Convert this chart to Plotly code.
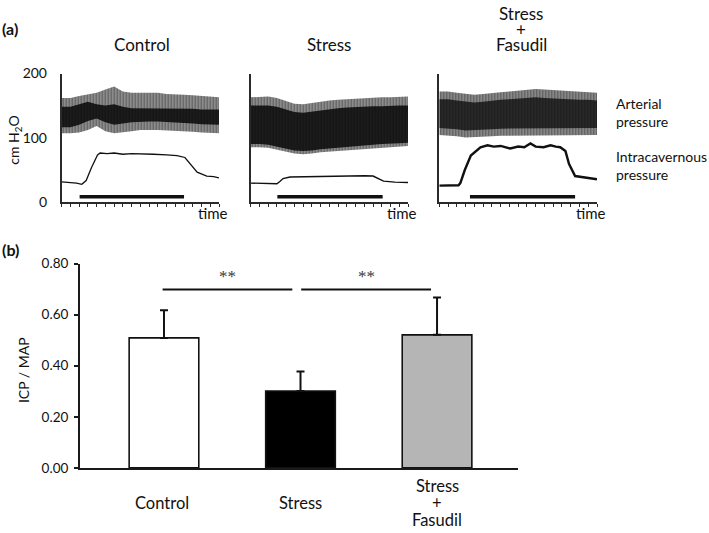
import plotly.graph_objects as go

W, H = 709, 533
FONT = "Lato"

# ---------------- Panel (a) data : pressure traces (time units 0..18) ----------------
panel_titles = ["Control", "Stress", "Stress\n+\nFasudil"]
t_grid = list(range(19))

# arterial pressure envelopes (cm H2O)
ctrl_art_hi = [162, 162, 165, 167, 170, 175, 180, 172, 170, 170, 170, 170, 168, 168, 167, 166, 165, 164, 163]
ctrl_art_lo = [107, 107, 108, 112, 118, 110, 107, 108, 110, 112, 112, 112, 112, 111, 110, 109, 108, 107, 107]
ctrl_core_hi = [148, 148, 152, 156, 152, 150, 152, 148, 146, 146, 146, 146, 146, 146, 145, 145, 144, 144, 144]
ctrl_core_lo = [116, 116, 120, 126, 130, 124, 120, 122, 124, 125, 125, 125, 125, 124, 123, 122, 121, 120, 120]

str_art_hi = [163, 164, 164, 162, 157, 153, 152, 154, 157, 158, 159, 160, 160, 161, 162, 163, 163, 164, 164]
str_art_lo = [85, 85, 84, 82, 78, 75, 74, 75, 77, 79, 80, 81, 82, 83, 84, 85, 86, 86, 87]
str_core_hi = [150, 150, 150, 148, 144, 140, 139, 141, 143, 145, 146, 147, 148, 148, 149, 149, 150, 150, 150]
str_core_lo = [90, 90, 89, 87, 83, 80, 79, 80, 82, 84, 85, 86, 87, 88, 89, 90, 91, 91, 92]

fas_art_hi = [172, 172, 170, 168, 167, 168, 170, 171, 172, 173, 175, 176, 175, 174, 173, 172, 171, 171, 170]
fas_art_lo = [104, 103, 102, 100, 100, 101, 102, 103, 104, 104, 104, 104, 104, 104, 104, 104, 104, 104, 104]
fas_core_hi = [160, 160, 158, 156, 155, 156, 158, 159, 160, 161, 163, 163, 162, 161, 160, 159, 159, 159, 158]
fas_core_lo = [115, 114, 113, 111, 111, 112, 113, 114, 115, 115, 115, 115, 115, 115, 115, 115, 115, 115, 115]

# intracavernous pressure (cm H2O)
ctrl_icp_t = [0, 1.0, 1.7, 2.3, 2.8, 3.4, 4.1, 4.4, 5.2, 6.0, 7.0, 8.0, 9.0, 10.5, 12.0, 13.2, 14.1, 14.7, 15.5, 16.6, 17.4, 18]
ctrl_icp_v = [31, 30, 29, 27, 33, 53, 73, 76, 75, 76, 74, 75, 75, 74, 73, 72, 69, 59, 46, 40, 39, 37]

str_icp_t = [0, 1.5, 3.0, 3.3, 3.7, 4.5, 6.0, 8.0, 10.0, 11.8, 12.1, 13.0, 14.0, 14.6, 15.2, 16.5, 18]
str_icp_v = [29, 28.5, 28, 31, 36, 38.5, 39, 39, 39.5, 40, 41, 40.5, 40, 36, 32, 30.5, 30]

fas_icp_t = [0, 1.2, 2.2, 2.4, 2.9, 3.6, 4.7, 5.5, 6.2, 7.0, 8.1, 9.0, 9.7, 10.4, 11.0, 11.9, 12.7, 13.3, 13.8, 14.4, 14.8, 15.5, 16.5, 17.3, 18]
fas_icp_v = [25, 25, 25.5, 29, 49, 72, 85, 88, 86, 87, 83, 86, 85, 91, 86, 85, 88, 86, 85, 79, 59, 40, 38, 37, 35]

# stimulation period (time units)
stim_start = [2.05, 3.05, 3.5]
stim_end = [14.0, 15.1, 15.5]
stim_level = 7.5

# ---------------- Panel (b) data : ICP / MAP ----------------
groups = ["Control", "Stress", "Stress\n+\nFasudil"]
ratio_mean = [0.509, 0.301, 0.521]
ratio_sem = [0.108, 0.076, 0.146]
bar_colors = ["#ffffff", "#000000", "#b5b5b5"]
y_ticks = [0.0, 0.2, 0.4, 0.6, 0.8]
y_ticktext = ["0.00", "0.20", "0.40", "0.60", "0.80"]
sig_level = 0.699
sig_pairs = [(0, 1), (1, 2)]
sig_text = ["**", "**"]


def fx(px):
    return px / W


def fy(py):
    return 1 - py / H


fig = go.Figure()

panels = [
    (ctrl_art_hi, ctrl_art_lo, ctrl_core_hi, ctrl_core_lo, ctrl_icp_t, ctrl_icp_v, "rgba(40,40,40,0.4)", "#222222", 1.3),
    (str_art_hi, str_art_lo, str_core_hi, str_core_lo, str_icp_t, str_icp_v, "rgba(40,40,40,0.4)", "#222222", 1.4),
    (fas_art_hi, fas_art_lo, fas_core_hi, fas_core_lo, fas_icp_t, fas_icp_v, "rgba(70,70,70,0.5)", "#353535", 2.4),
]
x_domains = [(fx(61.7), fx(219)), (fx(250.7), fx(408)), (fx(439.3), fx(597))]
y_domain_a = (fy(199), fy(66.7))

for i, (ahi, alo, chi, clo, it, iv, bgc, cbg, lw) in enumerate(panels):
    xa = "x" if i == 0 else f"x{i+1}"
    ya = "y" if i == 0 else f"y{i+1}"
    # outer envelope (pulse tips) with vertical stripe pattern
    fig.add_trace(go.Scatter(
        x=t_grid + t_grid[::-1], y=ahi + alo[::-1], fill="toself", mode="lines",
        line=dict(width=0), fillcolor=bgc,
        fillpattern=dict(shape="|", fgcolor="#111111", bgcolor=bgc, size=3, solidity=0.6),
        xaxis=xa, yaxis=ya, showlegend=False, hoverinfo="skip"))
    # dense core
    fig.add_trace(go.Scatter(
        x=t_grid + t_grid[::-1], y=chi + clo[::-1], fill="toself", mode="lines",
        line=dict(width=0), fillcolor=cbg,
        fillpattern=dict(shape="|", fgcolor="#050505", bgcolor=cbg, size=3, solidity=0.7),
        xaxis=xa, yaxis=ya, showlegend=False, hoverinfo="skip"))
    # intracavernous pressure
    fig.add_trace(go.Scatter(
        x=it, y=iv, mode="lines", line=dict(color="#111111", width=lw),
        xaxis=xa, yaxis=ya, showlegend=False, hoverinfo="skip"))
    # stimulation bar
    fig.add_trace(go.Scatter(
        x=[stim_start[i], stim_end[i]], y=[stim_level, stim_level], mode="lines",
        line=dict(color="#111111", width=3.5),
        xaxis=xa, yaxis=ya, showlegend=False, hoverinfo="skip"))

# bar chart
fig.add_trace(go.Bar(
    x=list(range(len(groups))), y=ratio_mean, width=0.51,
    marker=dict(color=bar_colors, line=dict(color="#111111", width=1.6)),
    error_y=dict(type="data", symmetric=False, array=ratio_sem, arrayminus=[0] * len(groups),
                 color="#111111", thickness=2, width=4),
    xaxis="x4", yaxis="y4", showlegend=False, hoverinfo="skip"))

# significance lines
for (a, b), txt in zip(sig_pairs, sig_text):
    x0 = a - 0.01 if a == 0 else a + 0.005
    x1 = b - 0.06 if b == 1 else b - 0.044
    fig.add_shape(type="line", xref="x4", yref="y4", x0=x0, x1=x1, y0=sig_level, y1=sig_level,
                  line=dict(color="#111111", width=2))
    fig.add_annotation(xref="x4", yref="y4", x=(x0 + x1) / 2, y=sig_level + 0.05, text=txt,
                       showarrow=False, font=dict(family="Liberation Serif", size=17, color="#3a3a3a"))

axis_a = dict(showgrid=False, zeroline=False, showline=True, linecolor="#2a2a2a", linewidth=1.8)
layout = dict(
    width=W, height=H, margin=dict(l=0, r=0, t=0, b=0),
    paper_bgcolor="white", plot_bgcolor="white",
    font=dict(family=FONT, color="#111111"),
)
for i in range(3):
    xk = "xaxis" if i == 0 else f"xaxis{i+1}"
    yk = "yaxis" if i == 0 else f"yaxis{i+1}"
    ya = "y" if i == 0 else f"y{i+1}"
    xa = "x" if i == 0 else f"x{i+1}"
    layout[xk] = dict(axis_a, domain=list(x_domains[i]), range=[0, 18], anchor=ya,
                      ticks="outside", ticklen=3, tickwidth=1, tickcolor="#2a2a2a",
                      tickmode="linear", tick0=0, dtick=1, showticklabels=False)
    layout[yk] = dict(axis_a, domain=list(y_domain_a), range=[0, 200], anchor=xa,
                      ticks="", tickmode="array", tickvals=[0, 100, 200],
                      showticklabels=(i == 0), ticklabelstandoff=10,
                      tickfont=dict(family=FONT, size=14, color="#111111"))

layout["xaxis4"] = dict(showgrid=False, zeroline=False, showline=True, linecolor="#1a1a1a", linewidth=2,
                        domain=[fx(80), fx(518)], range=[-0.615, 2.593], anchor="y4",
                        showticklabels=False, ticks="")
layout["yaxis4"] = dict(showgrid=False, zeroline=False, showline=True, linecolor="#1a1a1a", linewidth=2,
                        domain=[fy(474), fy(263)], range=[0, 0.8], anchor="x4",
                        ticks="outside", ticklen=4, tickwidth=1.5, tickcolor="#1a1a1a",
                        tickmode="array", tickvals=y_ticks, ticktext=y_ticktext,
                        ticklabelstandoff=3, tickfont=dict(family=FONT, size=13.5, color="#111111"))
fig.update_layout(**layout)

ann = []
# panel (a) titles, line by line
title_cx = [142, 329, 521]
for cx, title in zip(title_cx, panel_titles):
    lines = title.split("\n")
    n = len(lines)
    for k, ln in enumerate(lines):
        cy = 37 - (n - 1 - k) * 16
        ann.append(dict(x=fx(cx), y=fy(cy), text=ln, font=dict(size=17)))
# time labels
for cx in [213, 402, 591]:
    ann.append(dict(x=fx(cx), y=fy(211), text="time", font=dict(size=15)))
# side labels
ann.append(dict(x=fx(614), y=fy(107), text="Arterial<br>pressure", align="left", xanchor="left", font=dict(size=14)))
ann.append(dict(x=fx(614), y=fy(162), text="Intracavernous<br>pressure", align="left", xanchor="left", font=dict(size=14)))
ann.append(dict(x=fx(15), y=fy(135), text="cm H<sub>2</sub>O", textangle=-90, font=dict(size=14)))
ann.append(dict(x=fx(0), y=fy(20), text="<b>(a)</b>", xanchor="left", font=dict(size=16)))
ann.append(dict(x=fx(0), y=fy(248), text="<b>(b)</b>", xanchor="left", font=dict(size=16)))
ann.append(dict(x=fx(23), y=fy(373), text="ICP / MAP", textangle=-90, font=dict(size=14)))
# bar category labels
cat_cx = [162, 300, 437]
for cx, g in zip(cat_cx, groups):
    lines = g.split("\n")
    n = len(lines)
    for k, ln in enumerate(lines):
        cy = 510 + (k - (n - 1) / 2) * 17.5
        ann.append(dict(x=fx(cx), y=fy(cy), text=ln, font=dict(size=16.5)))

for a in ann:
    a.setdefault("xanchor", "center")
    a.update(xref="paper", yref="paper", showarrow=False, yanchor="middle")
    a["font"] = dict(family=FONT, color="#111111", **a["font"])
    fig.add_annotation(**a)

fig.write_html("out.html", config={"displayModeBar": False},
               post_script="document.body.style.margin='0';document.body.style.overflow='hidden';")
